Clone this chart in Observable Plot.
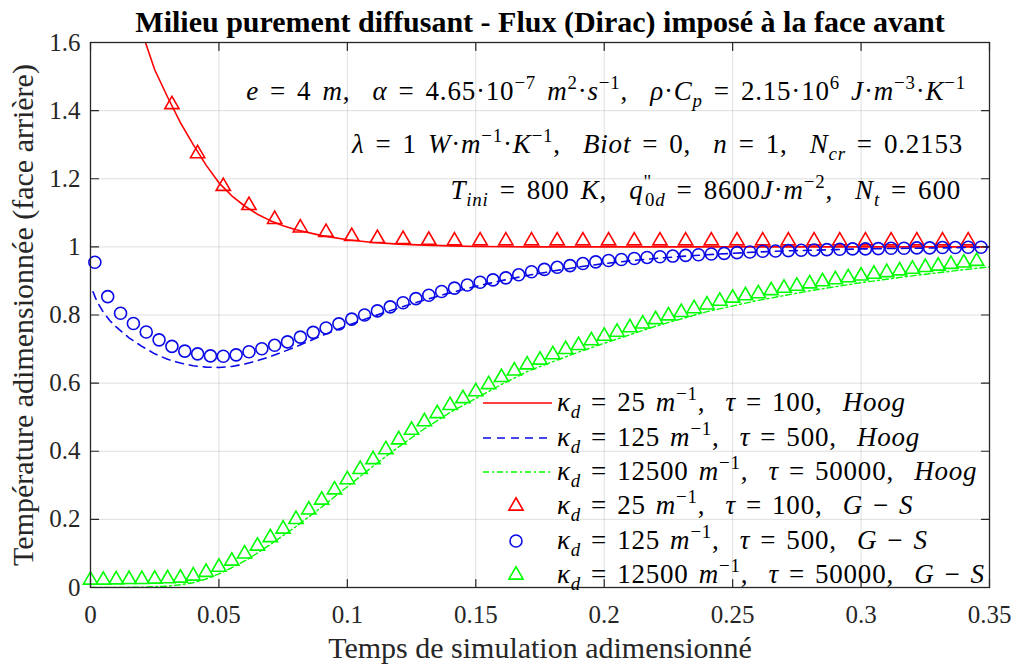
<!DOCTYPE html>
<html><head><meta charset="utf-8">
<script src="https://cdn.jsdelivr.net/npm/d3@7"></script>
<script src="https://cdn.jsdelivr.net/npm/@observablehq/plot@0.6"></script>
<style>body{margin:0;background:#fff} svg{display:block}</style>
</head><body><div id="chart"></div>
<script>
// ---------- data ----------
const xTicks = [0, 0.05, 0.1, 0.15, 0.2, 0.25, 0.3, 0.35];
const yTicks = [0, 0.2, 0.4, 0.6, 0.8, 1, 1.2, 1.4, 1.6];

const titleText = "Milieu purement diffusant - Flux (Dirac) imposé à la face avant";
const xLabel = "Temps de simulation adimensionné";
const yLabel = "Température adimensionnée (face arrière)";

// Hoog (lines)
const redHoogT = [0.015,0.018,0.0214,0.025,0.03,0.035,0.04,0.045,0.05,0.055,0.06,0.065,0.07,0.075,0.08,0.09,0.1,0.11,0.12,0.13,0.14,0.15,0.17,0.2,0.25,0.3,0.35];
const redHoogV = [1.80,1.70,1.60,1.52,1.44,1.365,1.30,1.24,1.188,1.150,1.120,1.096,1.077,1.062,1.050,1.033,1.021,1.013,1.008,1.005,1.003,1.001,1.0,1.0,1.0,1.0,1.0];

const blueHoogT = [0.001,0.0025,0.005,0.0075,0.01,0.015,0.02,0.025,0.03,0.035,0.04,0.045,0.05,0.055,0.06,0.065,0.07,0.075,0.08,0.085,0.09,0.095,0.1,0.11,0.12,0.13,0.14,0.15,0.16,0.17,0.18,0.19,0.2,0.21,0.22,0.23,0.24,0.25,0.26,0.27,0.28,0.29,0.3,0.31,0.32,0.33,0.34,0.35];
const blueHoogV = [0.868,0.84,0.808,0.784,0.765,0.733,0.708,0.686,0.670,0.659,0.651,0.647,0.646,0.649,0.656,0.666,0.678,0.692,0.707,0.723,0.739,0.754,0.769,0.796,0.821,0.844,0.865,0.884,0.901,0.916,0.929,0.941,0.951,0.959,0.966,0.972,0.977,0.981,0.985,0.988,0.990,0.992,0.994,0.995,0.996,0.997,0.998,0.999];

const greenHoogT = [0,0.01,0.02,0.03,0.035,0.04,0.045,0.05,0.055,0.06,0.065,0.07,0.08,0.09,0.1,0.11,0.12,0.13,0.14,0.15,0.16,0.17,0.18,0.19,0.2,0.22,0.24,0.26,0.28,0.30,0.32,0.34,0.35];
const greenHoogV = [0,0,0.001,0.004,0.008,0.014,0.025,0.040,0.058,0.078,0.101,0.126,0.179,0.236,0.296,0.356,0.413,0.466,0.514,0.555,0.596,0.634,0.663,0.691,0.717,0.767,0.810,0.843,0.871,0.895,0.915,0.933,0.941];

// Gaver-Stehfest (markers)
const redGST = [0.0317,0.0417,0.0517,0.0617,0.0717,0.0817,0.0917,0.1017,0.1117,0.1217,0.1317,0.1417,0.1517,0.1617,0.1717,0.1817,0.1917,0.2017,0.2117,0.2217,0.2317,0.2417,0.2517,0.2617,0.2717,0.2817,0.2917,0.3017,0.3117,0.3217,0.3317,0.3417];
const redGSV = [1.412,1.268,1.172,1.116,1.075,1.050,1.037,1.025,1.019,1.016,1.014,1.012,1.012,1.012,1.012,1.012,1.012,1.012,1.012,1.012,1.012,1.012,1.012,1.012,1.012,1.012,1.012,1.012,1.012,1.012,1.012,1.012];

const blueGST = [0.0017,0.0067,0.0117,0.0167,0.0217,0.0267,0.0317,0.0367,0.0417,0.0467,0.0517,0.0567,0.0617,0.0667,0.0717,0.0767,0.0817,0.0867,0.0917,0.0967,0.1017,0.1067,0.1117,0.1167,0.1217,0.1267,0.1317,0.1367,0.1417,0.1467,0.1517,0.1567,0.1617,0.1667,0.1717,0.1767,0.1817,0.1867,0.1917,0.1967,0.2017,0.2067,0.2117,0.2167,0.2217,0.2267,0.2317,0.2367,0.2417,0.2467,0.2517,0.2567,0.2617,0.2667,0.2717,0.2767,0.2817,0.2867,0.2917,0.2967,0.3017,0.3067,0.3117,0.3167,0.3217,0.3267,0.3317,0.3367,0.3417,0.3467];
const blueGSV = [0.955,0.854,0.805,0.775,0.750,0.727,0.708,0.694,0.686,0.680,0.679,0.683,0.692,0.701,0.711,0.721,0.735,0.749,0.762,0.774,0.788,0.800,0.812,0.824,0.836,0.848,0.858,0.869,0.879,0.888,0.896,0.903,0.909,0.918,0.927,0.934,0.940,0.945,0.951,0.956,0.960,0.963,0.966,0.969,0.971,0.973,0.975,0.977,0.979,0.981,0.983,0.985,0.987,0.988,0.989,0.990,0.991,0.992,0.993,0.994,0.994,0.995,0.996,0.996,0.997,0.997,0.998,0.998,0.999,0.999];

const greenGST = [0,0.005,0.01,0.015,0.02,0.025,0.03,0.035,0.04,0.045,0.05,0.055,0.06,0.065,0.07,0.075,0.08,0.085,0.09,0.095,0.1,0.105,0.11,0.115,0.12,0.125,0.13,0.135,0.14,0.145,0.15,0.155,0.16,0.165,0.17,0.175,0.18,0.185,0.19,0.195,0.2,0.205,0.21,0.215,0.22,0.225,0.23,0.235,0.24,0.245,0.25,0.255,0.26,0.265,0.27,0.275,0.28,0.285,0.29,0.295,0.3,0.305,0.31,0.315,0.32,0.325,0.33,0.335,0.34,0.345];
const greenGSV = [0.016,0.016,0.017,0.018,0.018,0.019,0.020,0.022,0.028,0.039,0.054,0.072,0.093,0.116,0.141,0.166,0.194,0.222,0.251,0.281,0.311,0.341,0.370,0.399,0.428,0.456,0.481,0.505,0.529,0.549,0.569,0.590,0.611,0.630,0.648,0.662,0.678,0.693,0.705,0.719,0.732,0.744,0.757,0.768,0.781,0.792,0.802,0.813,0.824,0.835,0.844,0.851,0.857,0.866,0.873,0.879,0.886,0.892,0.898,0.904,0.909,0.914,0.919,0.924,0.929,0.934,0.938,0.943,0.947,0.952];

// ---------- styles ----------
const RED = "#ff0000", BLUE = "#0a0ae6", GREEN = "#00ff00", AX = "#262626";
const FONT = "'Liberation Serif', 'Times New Roman', serif";
const zip = (T, V) => T.map((t, i) => ({t, v: V[i]}));

const tickShape = {draw(ctx, l) { ctx.moveTo(0, 0); ctx.lineTo(0, -l); }};
const TL = 8;

const chart = Plot.plot({
  width: 1015, height: 664,
  marginLeft: 90, marginRight: 26, marginTop: 42, marginBottom: 77,
  x: {domain: [0, 0.35]},
  y: {domain: [0, 1.6]},
  style: {fontFamily: FONT, fontSize: "25px", color: AX, background: "white", overflow: "visible"},
  marks: [
    Plot.gridX(xTicks, {stroke: AX, strokeOpacity: 0.15, strokeWidth: 1}),
    Plot.gridY(yTicks, {stroke: AX, strokeOpacity: 0.15, strokeWidth: 1}),
    Plot.line(zip(redHoogT, redHoogV), {x: "t", y: "v", stroke: RED, strokeWidth: 1.6, clip: true}),
    Plot.line(zip(blueHoogT, blueHoogV), {x: "t", y: "v", stroke: BLUE, strokeWidth: 1.6, strokeDasharray: "8,6", clip: true}),
    Plot.line(zip(greenHoogT, greenHoogV), {x: "t", y: "v", stroke: GREEN, strokeWidth: 1.4, strokeDasharray: "6,3,2,3", clip: true}),
    Plot.dot(zip(redGST, redGSV), {x: "t", y: "v", symbol: "triangle", r: 5.3, stroke: RED, strokeWidth: 1.6, fill: "none", dy: -2}),
    Plot.dot(zip(blueGST, blueGSV), {x: "t", y: "v", symbol: "circle", r: 6, stroke: BLUE, strokeWidth: 1.6, fill: "none"}),
    Plot.dot(zip(greenGST, greenGSV), {x: "t", y: "v", symbol: "triangle", r: 5.3, stroke: GREEN, strokeWidth: 1.6, fill: "none", dy: -2}),
    Plot.frame({stroke: AX, strokeWidth: 1.3}),
    Plot.vector(xTicks, {x: d => d, frameAnchor: "bottom", length: TL, rotate: 0, anchor: "start", shape: tickShape, stroke: AX, strokeWidth: 1.2}),
    Plot.vector(xTicks, {x: d => d, frameAnchor: "top", length: TL, rotate: 180, anchor: "start", shape: tickShape, stroke: AX, strokeWidth: 1.2}),
    Plot.vector(yTicks, {y: d => d, frameAnchor: "left", length: TL, rotate: 90, anchor: "start", shape: tickShape, stroke: AX, strokeWidth: 1.2}),
    Plot.vector(yTicks, {y: d => d, frameAnchor: "right", length: TL, rotate: -90, anchor: "start", shape: tickShape, stroke: AX, strokeWidth: 1.2}),
    Plot.axisX(xTicks, {anchor: "bottom", tickSize: 0, tickPadding: 18, tickFormat: d => `${d}`, label: null, fontSize: 25, fill: AX}),
    Plot.axisY(yTicks, {anchor: "left", tickSize: 0, tickPadding: 10, tickFormat: d => `${d}`, label: null, fontSize: 25, fill: AX}),
    Plot.text([titleText], {frameAnchor: "top", lineAnchor: "bottom", textAnchor: "middle", dy: -11, fontWeight: "bold", fontSize: 30, fill: "#000"}),
    Plot.text([xLabel], {frameAnchor: "bottom", lineAnchor: "bottom", textAnchor: "middle", dy: 70, fontSize: 30, fill: AX}),
    Plot.text([yLabel], {frameAnchor: "left", lineAnchor: "bottom", textAnchor: "middle", dx: -58, rotate: -90, fontSize: 30, fill: AX})
  ]
});
document.getElementById("chart").appendChild(chart);

// ---------- rich text (annotations & legend) ----------
const sx = chart.scale("x"), sy = chart.scale("y");
const R = Math.max(...sx.range);
const T = Math.min(...sy.range), B = Math.max(...sy.range);
const svg = d3.select(chart);
const g = svg.append("g").attr("font-family", FONT).attr("fill", "#000");

function rich(x, y, parts, anchor, size, ls, ws) {
  const t = g.append("text").attr("x", x).attr("y", y).attr("text-anchor", anchor)
    .attr("font-size", size).attr("letter-spacing", ls).attr("word-spacing", ws)
    .style("white-space", "pre");
  let cur = 0;
  for (const [s, k, dx] of parts) {
    const ts = t.append("tspan").text(s);
    let off = 0, fs = null, it = false;
    if (k === "i") it = true;
    if (k === "sup") { off = -0.4 * size; fs = 0.7 * size; }
    if (k === "sub") { off = 0.25 * size; fs = 0.7 * size; it = true; }
    if (k === "subr") { off = 0.25 * size; fs = 0.7 * size; }
    ts.attr("dy", off - cur); cur = off;
    if (fs) ts.attr("font-size", fs);
    if (it) ts.attr("font-style", "italic");
    if (dx) ts.attr("dx", dx);
  }
  return t;
}

const AS = 27;
rich(R - 23, T + 58, [["e","i"],[" = 4 ","r"],["m","i"],[",  ","r"],["α","i"],[" = 4.65·10","r"],["−7","sup"],[" ","r"],["m","i"],["2","sup"],["·","r"],["s","i"],["−1","sup"],[",  ","r"],["ρ","i"],["·","r"],["C","i"],["p","sub"],[" = 2.15·10","r"],["6","sup"],[" ","r"],["J","i"],["·","r"],["m","i"],["−3","sup"],["·","r"],["K","i"],["−1","sup"]], "end", AS, 0.8, 3.5);
rich(R - 26, T + 111, [["λ","i"],[" = 1 ","r"],["W","i"],["·","r"],["m","i"],["−1","sup"],["·","r"],["K","i"],["−1","sup"],[",  ","r"],["Biot","i"],[" = 0,  ","r"],["n","i"],[" = 1,  ","r"],["N","i"],["cr","sub"],[" = 0.2153","r"]], "end", AS, 0.8, 3.5);
rich(R - 28, T + 157, [["T","i"],["ini","sub"],[" = 800 ","r"],["K","i"],[",  ","r"],["q","i"],["\"","sup"],["0","subr",-7],["d","sub"],[" = 8600","r"],["J","i"],["·","r"],["m","i"],["−2","sup"],[",  ","r"],["N","i"],["t","sub"],[" = 600","r"]], "end", AS, 0.8, 3.5);

// legend
const LS = 27;
const rows = [184, 149, 115, 81, 46, 12].map(d => B - d);
const lx0 = R - 506, lx1 = R - 437, mx = R - 473, tx = R - 432;
const leg = [
  {kind: "line", color: RED, dash: null, k: "25", tau: "100", m: "Hoog"},
  {kind: "line", color: BLUE, dash: "8,6", k: "125", tau: "500", m: "Hoog"},
  {kind: "line", color: GREEN, dash: "6,3,2,3", k: "12500", tau: "50000", m: "Hoog"},
  {kind: "tri", color: RED, k: "25", tau: "100", m: "GS"},
  {kind: "circ", color: BLUE, k: "125", tau: "500", m: "GS"},
  {kind: "tri", color: GREEN, k: "12500", tau: "50000", m: "GS"}
];
leg.forEach((e, i) => {
  const y = rows[i];
  if (e.kind === "line") {
    g.append("line").attr("x1", lx0).attr("x2", lx1).attr("y1", y).attr("y2", y)
      .attr("stroke", e.color).attr("stroke-width", e.color === GREEN ? 1.4 : 1.6)
      .attr("stroke-dasharray", e.dash);
  } else {
    const sym = e.kind === "tri" ? d3.symbolTriangle : d3.symbolCircle;
    const r = e.kind === "tri" ? 5.3 : 6;
    g.append("path").attr("d", d3.symbol(sym, Math.PI * r * r)())
      .attr("transform", `translate(${mx},${y})`)
      .attr("fill", "none").attr("stroke", e.color).attr("stroke-width", 1.6);
  }
  const parts = [["κ","i"],["d","sub"],[` = ${e.k} `,"r"],["m","i"],["−1","sup"],[",  ","r"],["τ","i"],[` = ${e.tau},  `,"r"]];
  if (e.m === "Hoog") parts.push(["Hoog","i"]);
  else parts.push(["G","i"],[" − ","r"],["S","i"]);
  rich(tx, y + 8, parts, "start", LS, 0.8, 2.5);
});
</script>
</body></html>
